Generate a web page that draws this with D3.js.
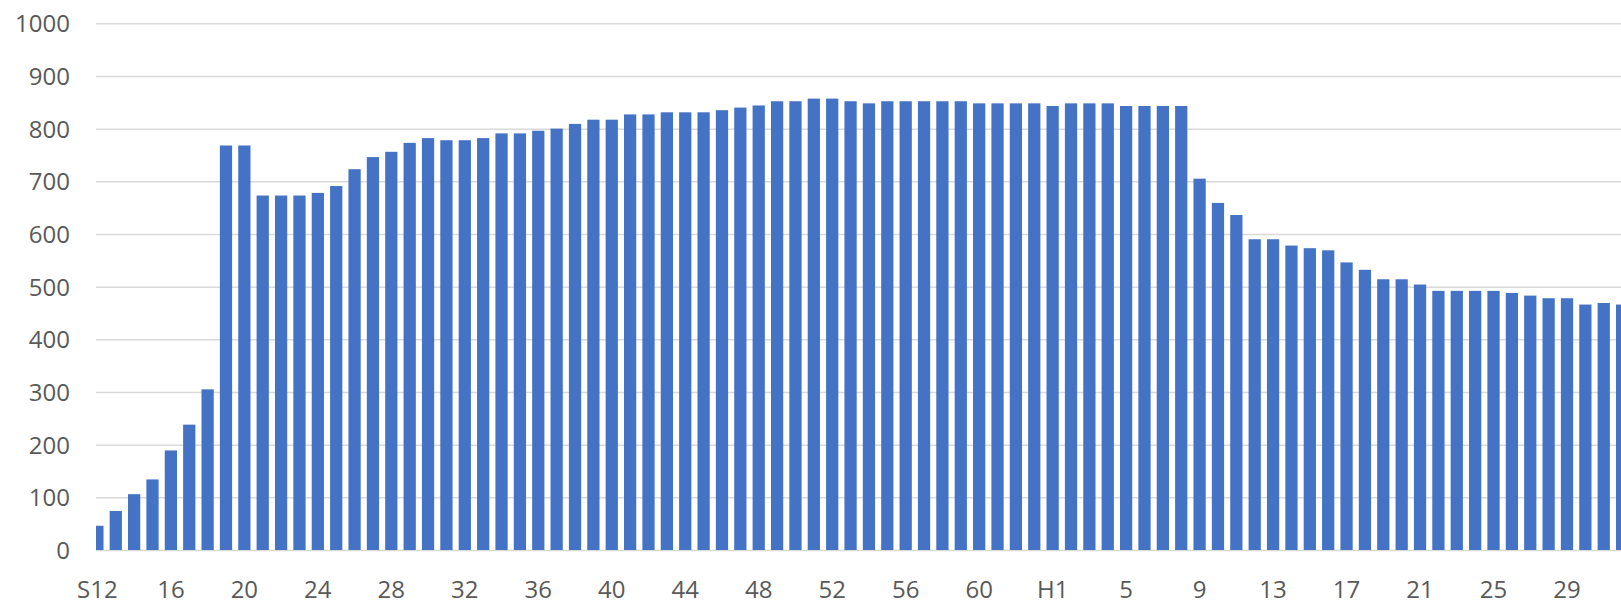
<!DOCTYPE html>
<html>
<head>
<meta charset="utf-8">
<script src="https://cdn.jsdelivr.net/npm/d3@7"></script>
<style>
  html, body { margin: 0; padding: 0; background: #ffffff; }
  svg { display: block; }
  .axis text { font-family: "Open Sans", "Noto Sans", sans-serif; font-size: 24px; fill: #595959; }
</style>
</head>
<body>
<svg id="chart" width="1621" height="605"></svg>
<script>
// Fiscal years: Showa 12-63, Heisei 1-31, Reiwa 1
const categories = [
  "S12","S13","S14","S15","S16","S17","S18","S19","S20","S21",
  "S22","S23","S24","S25","S26","S27","S28","S29","S30","S31",
  "S32","S33","S34","S35","S36","S37","S38","S39","S40","S41",
  "S42","S43","S44","S45","S46","S47","S48","S49","S50","S51",
  "S52","S53","S54","S55","S56","S57","S58","S59","S60","S61",
  "S62","S63","H1","H2","H3","H4","H5","H6","H7","H8",
  "H9","H10","H11","H12","H13","H14","H15","H16","H17","H18",
  "H19","H20","H21","H22","H23","H24","H25","H26","H27","H28",
  "H29","H30","H31","R1"
];

const values = [
  46, 74, 106, 134, 189, 238, 305, 768, 768, 673,
  673, 673, 678, 691, 723, 746, 756, 773, 782, 778,
  778, 782, 791, 791, 796, 800, 809, 817, 817, 827,
  827, 831, 831, 831, 835, 840, 844, 852, 852, 857,
  857, 852, 848, 852, 852, 852, 852, 852, 848, 848,
  848, 848, 843, 848, 848, 848, 843, 843, 843, 843,
  705, 659, 636, 590, 590, 578, 573, 569, 546, 532,
  514, 514, 504, 492, 492, 492, 492, 488, 483, 478,
  478, 466, 469, 466
];

// Every fourth category carries a label on the horizontal axis
const tickCategories = ["S12","S16","S20","S24","S28","S32","S36","S40","S44","S48",
  "S52","S56","S60","H1","H5","H9","H13","H17","H21","H25","H29"];
const tickLabels = ["S12","16","20","24","28","32","36","40","44","48",
  "52","56","60","H1","5","9","13","17","21","25","29"];

const yTicks = [0, 100, 200, 300, 400, 500, 600, 700, 800, 900, 1000];

const W = 1621, H = 605;
const plotLeft = 96, plotRight = W;
const baseY = 550, topY = 23.3;
const step = 18.37;
const firstCenter = 97.4;

const svg = d3.select("#chart");

const x = d3.scaleBand()
  .domain(categories)
  .range([firstCenter - step / 2, firstCenter - step / 2 + categories.length * step])
  .paddingInner(1 / 3)
  .paddingOuter(1 / 6);

const y = d3.scaleLinear().domain([0, 1000]).range([baseY, topY]);

// Value axis with full-width gridlines
const yAxis = svg.append("g")
  .attr("class", "axis y-axis")
  .attr("transform", `translate(${plotLeft},0)`)
  .call(d3.axisLeft(y)
    .tickValues(yTicks)
    .tickSize(-(plotRight - plotLeft))
    .tickPadding(26)
    .tickFormat(d3.format("d")));
yAxis.select(".domain").remove();
yAxis.selectAll(".tick line").attr("stroke", "#d9d9d9").attr("stroke-width", 1.5);
yAxis.selectAll(".tick text").attr("dy", "0.36em");

// Bars, clipped to the plot area
svg.append("clipPath").attr("id", "plot-clip")
  .append("rect")
  .attr("x", plotLeft).attr("y", 0)
  .attr("width", plotRight - plotLeft).attr("height", H);

svg.append("g")
  .attr("clip-path", "url(#plot-clip)")
  .selectAll("rect")
  .data(categories.map((c, i) => ({ c, v: values[i] })))
  .join("rect")
  .attr("x", d => x(d.c))
  .attr("y", d => y(d.v))
  .attr("width", x.bandwidth())
  .attr("height", d => y(0) - y(d.v))
  .attr("fill", "#4472C4");

// Category axis
const labelFor = new Map(tickCategories.map((c, i) => [c, tickLabels[i]]));
const xAxis = svg.append("g")
  .attr("class", "axis x-axis")
  .attr("transform", `translate(0,${baseY})`)
  .call(d3.axisBottom(x)
    .tickValues(tickCategories)
    .tickSize(0)
    .tickPadding(31)
    .tickFormat(c => labelFor.get(c)));
xAxis.select(".domain").remove();
</script>
</body>
</html>
